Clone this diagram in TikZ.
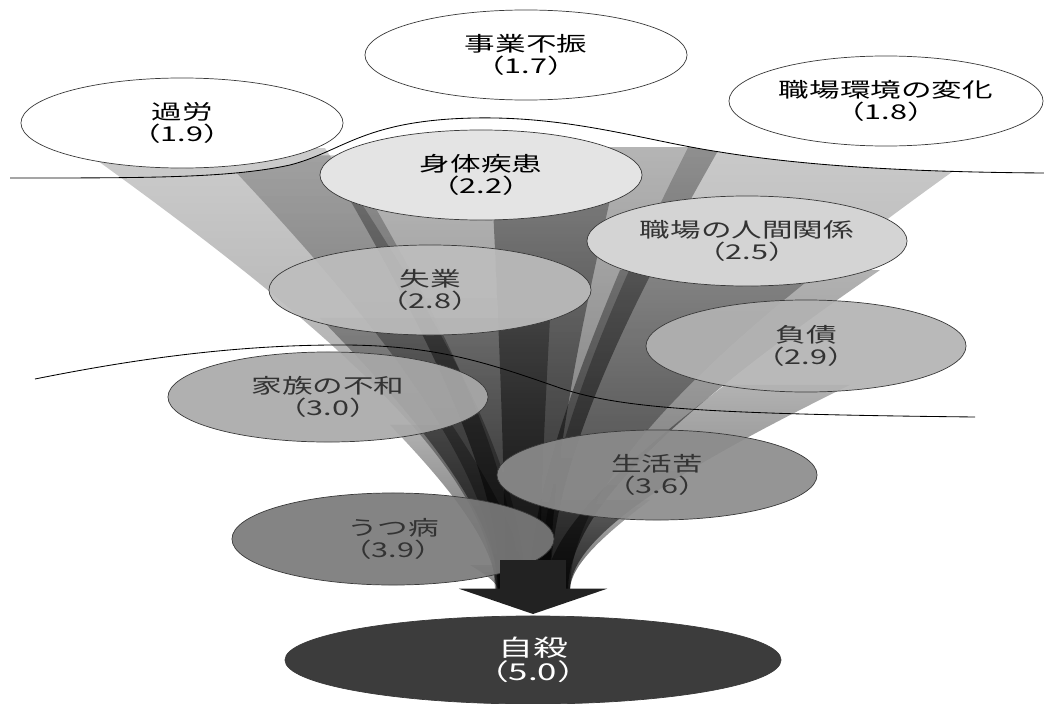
\documentclass[tikz,border=0pt]{standalone}
\usepackage{fontspec}
\usetikzlibrary{shapes.geometric,arrows.meta,fadings}
\newfontfamily\jpfont[FakeStretch=1.5]{Noto Sans CJK JP}
\definecolor{rimGray}{HTML}{3A3A3A}
\definecolor{shadeA}{HTML}{E4E4E4}
\definecolor{shadeB}{HTML}{D4D4D4}
\definecolor{shadeC}{HTML}{BDBDBD}
\definecolor{shadeD}{HTML}{B3B3B3}
\definecolor{shadeE}{HTML}{A9A9A9}
\definecolor{shadeF}{HTML}{8C8C8C}
\definecolor{shadeG}{HTML}{7A7A7A}
\definecolor{endDark}{HTML}{3C3C3C}
\definecolor{arrowDark}{HTML}{222222}
\definecolor{inkMid}{HTML}{333333}
\tikzfading[name=flowfade, top color=transparent!50, bottom color=transparent!0]
\newcommand{\flowband}[6]{%
  \pgfmathsetmacro{\bandLc}{#1+0.55*(#4-#1)}
  \pgfmathsetmacro{\bandRc}{#2+0.55*(#5-#2)}
  \pgfmathsetmacro{\bandTc}{#3+0.37*(590-#3)}
  \pgfmathsetmacro{\bandBc}{590-0.28*(590-#3)}
  \fill[band, fill opacity=#6] (#1,#3) .. controls (\bandLc,\bandTc) and (#4,\bandBc) .. (#4,590)
    -- (#5,590) .. controls (#5,\bandBc) and (\bandRc,\bandTc) .. (#2,#3) -- cycle;
}

\begin{document}
\begin{tikzpicture}[x=0.025cm, y=-0.025cm,
      cause/.style={ellipse, draw=rimGray, line width=0.5pt, inner sep=0pt, minimum width=8.05cm,
        minimum height=2.25cm, align=center, font=\jpfont\fontsize{14.5}{15.5}\selectfont},
      calm/.style={cause, fill=white},
      hazy/.style={cause, fill=#1, fill opacity=0.92, text opacity=1, text=inkMid},
      band/.style={fill=black, path fading=flowfade},
      divider/.style={draw=black, line width=0.6pt},
      flow/.style={draw=arrowDark, line width=47pt, -{Triangle[width=105pt, length=18pt]}}]
    \useasboundingbox (0,0) rectangle (1044,703);
    \flowband{80}{325}{148}{495}{525}{0.4}
    \begin{scope}
      \clip (0,178) -- (10,178) .. controls (150,178) and (230,178) .. (290,165)
        .. controls (340,152) and (360,125) .. (450,119)
        .. controls (560,112) and (640,140) .. (720,152)
        .. controls (800,165) and (900,172) .. (1044,173) -- (1044,703) -- (0,703) -- cycle;
      \flowband{220}{345}{155}{497}{518}{0.42}
      \flowband{490}{720}{147}{505}{550}{0.58}
      \flowband{700}{1020}{124}{540}{570}{0.4}
      \flowband{350}{610}{200}{500}{550}{0.6}
      \flowband{620}{880}{270}{530}{568}{0.6}
      \flowband{320}{550}{318}{498}{540}{0.6}
      \flowband{725}{850}{385}{545}{570}{0.6}
      \flowband{390}{452}{425}{496}{525}{0.6}
      \flowband{540}{650}{500}{540}{570}{0.6}
      \flowband{470}{522}{565}{498}{535}{0.6}
    \end{scope}
    \draw[divider] (10,178) .. controls (150,178) and (230,178) .. (290,165)
      .. controls (340,152) and (360,125) .. (450,119)
      .. controls (560,112) and (640,140) .. (720,152)
      .. controls (800,165) and (900,172) .. (1044,173);
    \draw[divider] (35,379) .. controls (120,362) and (220,346) .. (330,345)
      .. controls (430,344) and (480,360) .. (560,388)
      .. controls (620,408) and (700,414) .. (975,417);
    \coordinate (funnel) at (533,560);
    \node[calm] (karo) at (182,123) {過労\\（1.9）};
    \node[calm] (jigyo) at (526,55) {事業不振\\（1.7）};
    \node[calm, minimum width=7.85cm] (kankyo) at (886,101) {職場環境の変化\\（1.8）};
    \node[cause, fill=shadeA] (shintai) at (481,175) {身体疾患\\（2.2）};
    \node[cause, fill=shadeB, text=inkMid, minimum width=8cm] (ningen) at (747,241) {職場の人間関係\\（2.5）};
    \node[hazy=shadeC] (shitsugyo) at (430,290) {失業\\（2.8）};
    \node[hazy=shadeD, minimum width=8cm, minimum height=2.3cm] (fusai) at (806,346) {負債\\（2.9）};
    \node[hazy=shadeE, minimum width=8cm] (kazoku) at (328,397) {家族の不和\\（3.0）};
    \node[hazy=shadeF, minimum width=8cm] (seikatsu) at (657,475) {生活苦\\（3.6）};
    \node[hazy=shadeG, minimum height=2.3cm] (utsu) at (393,539) {うつ病\\（3.9）};
    \draw[flow] (funnel) -- (533,614);
    \node[cause, fill=endDark, text=white, minimum width=12.4cm, minimum height=2.2cm,
      font=\jpfont\fontsize{16.5}{17.5}\selectfont] (jisatsu) at (533,660) {自殺\\（5.0）};
  \end{tikzpicture}
\end{document}
